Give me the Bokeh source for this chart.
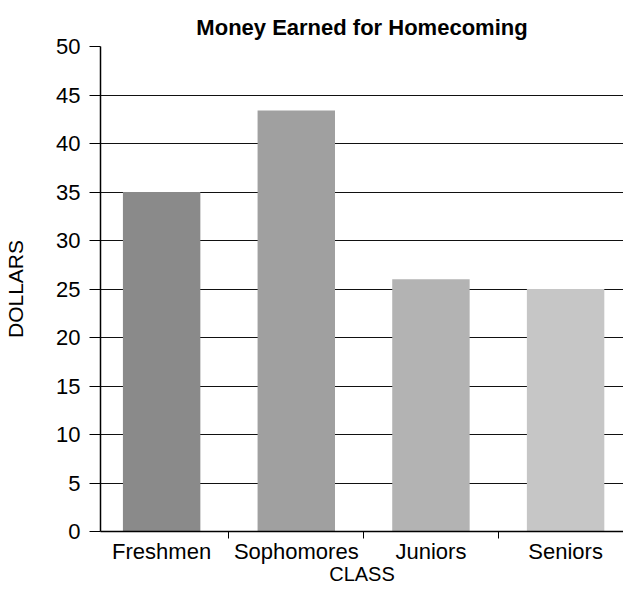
from bokeh.plotting import figure
from bokeh.models import Range1d, FixedTicker
from bokeh.embed import file_html
from bokeh.resources import INLINE

# ---- data ----
classes = ["Freshmen", "Sophomores", "Juniors", "Seniors"]
dollars = [35, 43.4, 26, 25]
bar_colors = ["#8a8a8a", "#a0a0a0", "#b3b3b3", "#c6c6c6"]
y_ticks = [0, 5, 10, 15, 20, 25, 30, 35, 40, 45, 50]
title_text = "Money Earned for Homecoming"
x_label = "CLASS"
y_label = "DOLLARS"

FONT = "Liberation Sans"

centers = [float(i) for i in range(len(classes))]
boundaries = [i + 0.5 for i in range(len(classes) - 1)]

p = figure(
    width=623, height=587,
    x_range=Range1d(-0.454, 3.43),
    y_range=Range1d(0, 50),
    output_backend="svg", toolbar_location=None,
    min_border_left=100, min_border_right=0,
    min_border_top=46, min_border_bottom=40,
    title=title_text,
)
p.outline_line_color = None
p.background_fill_color = "white"
p.border_fill_color = "white"

p.title.text_font = FONT
p.title.text_font_size = "22px"
p.title.text_font_style = "bold"
p.title.align = "center"
p.title.text_color = "black"
p.title.standoff = 14
p.title.offset = 4

p.vbar(x=centers, top=dollars, width=0.575, bottom=0,
       fill_color=bar_colors, line_color=None)

# y axis
yax = p.yaxis[0]
yax.ticker = FixedTicker(ticks=y_ticks)
yax.minor_tick_line_color = None
yax.major_tick_in = 0
yax.major_tick_out = 11
yax.major_tick_line_color = "black"
yax.axis_line_color = "black"
yax.axis_line_width = 1.5
yax.major_label_text_font = FONT
yax.major_label_text_font_size = "22px"
yax.major_label_text_color = "black"
yax.major_label_standoff = 9
yax.axis_label = y_label
yax.axis_label_text_font = FONT
yax.axis_label_text_font_size = "21px"
yax.axis_label_text_font_style = "normal"
yax.axis_label_text_color = "black"
yax.axis_label_standoff = 26

# x axis
xax = p.xaxis[0]
xax.ticker = FixedTicker(ticks=centers, minor_ticks=boundaries)
xax.major_label_overrides = {c: name for c, name in zip(centers, classes)}
xax.major_tick_in = 0
xax.major_tick_out = 0
xax.major_tick_line_color = None
xax.minor_tick_in = 0
xax.minor_tick_out = 7
xax.minor_tick_line_color = "black"
xax.axis_line_color = "black"
xax.axis_line_width = 1.5
xax.major_label_text_font = FONT
xax.major_label_text_font_size = "22px"
xax.major_label_text_color = "black"
xax.major_label_text_line_height = 1.0
xax.major_label_standoff = 0
xax.axis_label = x_label
xax.axis_label_text_font = FONT
xax.axis_label_text_font_size = "20px"
xax.axis_label_text_font_style = "normal"
xax.axis_label_text_color = "black"
xax.axis_label_text_line_height = 1.0
xax.axis_label_standoff = -4

# grid
p.xgrid.grid_line_color = None
p.ygrid.ticker = FixedTicker(ticks=y_ticks)
p.ygrid.grid_line_color = "#111111"
p.ygrid.grid_line_width = 1.2

open("out.html", "w").write(file_html(p, INLINE))
